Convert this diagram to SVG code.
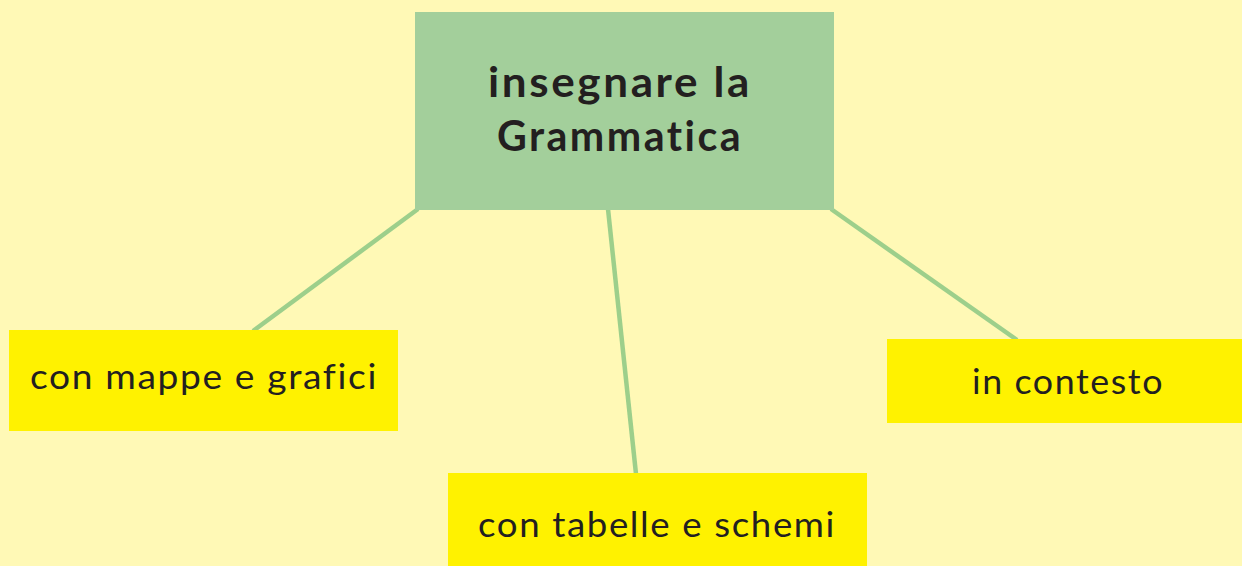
<svg xmlns="http://www.w3.org/2000/svg" width="1242" height="566" viewBox="0 0 1242 566">
<style>
.bg{fill:#fff9b6}
.main{fill:#a3cf9b}
.leaf{fill:#fff200}
.t{font-family:Lato,"Open Sans","Liberation Sans",sans-serif;fill:#231f20}
.tt{font-size:42px;font-weight:700;letter-spacing:2.5px}
.ts{font-size:34px;font-weight:400;letter-spacing:1.5px}
.c{stroke:#9dcf8b;stroke-width:4.5;fill:none}
</style>
<rect class="bg" x="0" y="0" width="1242" height="566"/>
<g id="connectors">
<line class="c" x1="418" y1="209" x2="253" y2="331"/>
<line class="c" x1="608" y1="209" x2="636" y2="474"/>
<line class="c" x1="831" y1="209" x2="1017" y2="340"/>
</g>
<g id="n-main">
<rect class="main" x="415" y="12" width="419" height="198"/>
<text class="t tt" x="488" y="97" textLength="264" lengthAdjust="spacingAndGlyphs">insegnare la</text>
<text class="t tt" x="497" y="151" textLength="246" lengthAdjust="spacingAndGlyphs">Grammatica</text>
</g>
<g id="n-mappe">
<rect class="leaf" x="9" y="330" width="389" height="101"/>
<text class="t ts" x="30" y="389" textLength="348" lengthAdjust="spacingAndGlyphs">con mappe e grafici</text>
</g>
<g id="n-tabelle">
<rect class="leaf" x="448" y="473" width="419" height="93"/>
<text class="t ts" x="478" y="537" textLength="358" lengthAdjust="spacingAndGlyphs">con tabelle e schemi</text>
</g>
<g id="n-contesto">
<rect class="leaf" x="887" y="339" width="355" height="84"/>
<text class="t ts" x="972" y="394" textLength="192" lengthAdjust="spacingAndGlyphs">in contesto</text>
</g>
</svg>
